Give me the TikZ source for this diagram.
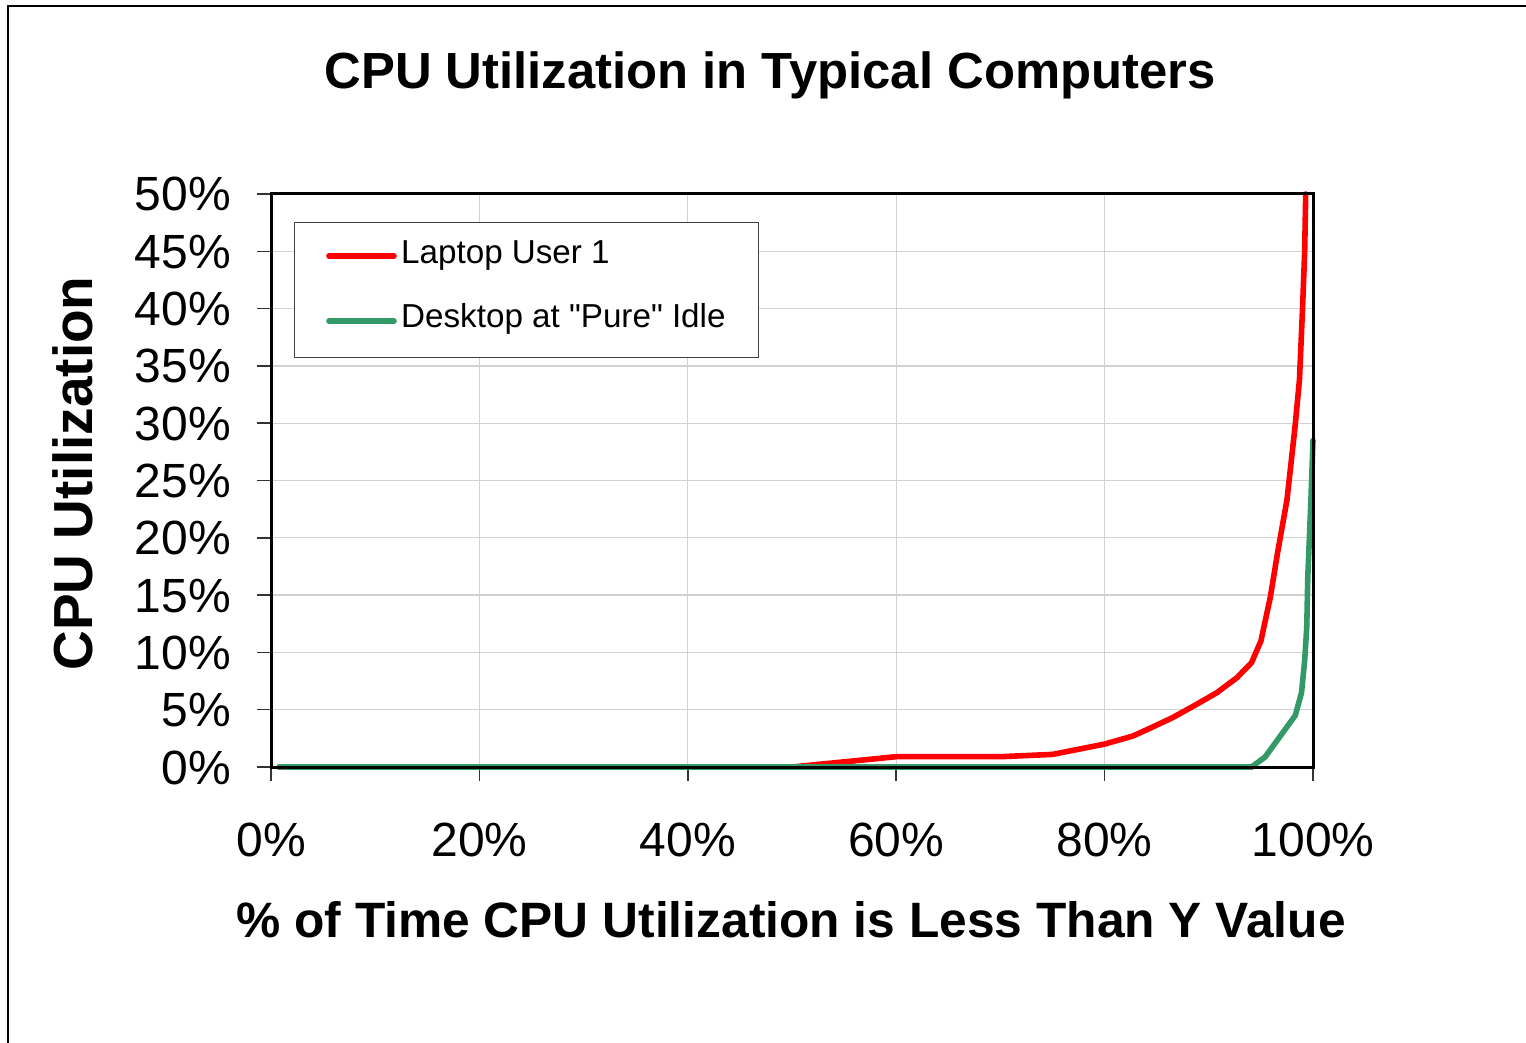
\documentclass[tikz,border=0pt]{standalone}
\usepackage{fontspec}
\setmainfont{Liberation Sans}
\definecolor{seagreen}{HTML}{339966}
\definecolor{gridgray}{HTML}{D2D2D2}
\definecolor{legendgray}{HTML}{404040}

\tikzset{
  frameline/.style={line width=3pt, black, line cap=rect},
  gridline/.style={line width=1.3pt, gridgray},
  tickline/.style={line width=1.5pt, black!80},
  series/.style={line width=5.6pt, line join=round, line cap=round},
  ticklabel/.style={font=\fontsize{48}{52}\selectfont, inner sep=0pt},
  axistitle/.style={font=\bfseries\fontsize{49.7}{54}\selectfont, inner sep=0pt},
  legendtext/.style={font=\fontsize{33.2}{36}\selectfont, inner sep=0pt, anchor=base west}
}

\begin{document}
\begin{tikzpicture}[x=1pt, y=-1pt]
\useasboundingbox (0,0) rectangle (1526,1043);

% outer chart frame
\draw[line width=1.5pt] (8,1043) -- (8,6) -- (1526,6);

% title
\node[font=\bfseries\fontsize{50.8}{56}\selectfont, inner sep=0pt, anchor=base] (title) at (770,89) {CPU Utilization in Typical Computers};

% plot area in data units: x 0..100 %, y 0..50 %
\begin{scope}[shift={(271,767)}, x=10.42pt, y=11.46pt]
  \coordinate (origin) at (0,0);
  \coordinate (corner) at (100,50);
  % grid
  \foreach \gx in {20,40,60,80} \draw[gridline] (\gx,0) -- (\gx,50);
  \foreach \gy in {5,10,...,45} \draw[gridline] (0,\gy) -- (100,\gy);
  % ticks
  \foreach \gy in {0,5,...,50} \draw[tickline] (0,\gy) -- ++(-14pt,0);
  \foreach \gx in {0,20,...,100} \draw[tickline] (\gx,0) -- ++(0,-14pt);

  % Desktop at "Pure" Idle
  \draw[series, seagreen] (0.8,0) -- (94.1,0) -- (95.4,0.87) -- (97.1,3.0) -- (98.3,4.5)
    -- (98.9,6.5) -- (99.2,9.3) -- (99.4,12.2) -- (99.5,16.6) -- (99.8,23.3) -- (100,28.5);
  % Laptop User 1
  \draw[series, red] (0.8,0) -- (50,0) -- (60,0.9) -- (70,0.9) -- (75,1.1) -- (80,2.0)
    -- (82.7,2.7) -- (84.4,3.4) -- (86.5,4.3) -- (88.5,5.3) -- (90.8,6.5) -- (92.7,7.8)
    -- (94.1,9.1) -- (95.0,11.0) -- (95.9,14.8) -- (96.6,18.7) -- (97.5,23.3)
    -- (98.3,29.9) -- (98.7,33.8) -- (99.0,40.1) -- (99.2,45.0) -- (99.3,50);
  % green redrawn over the shared zero run
  \draw[series, seagreen] (0.8,0) -- (94.1,0);

  % plot border
  \draw[frameline] (origin) rectangle (corner);

  % axis labels
  \foreach \gy in {0,5,...,50}
    \node[ticklabel, anchor=base east] (ylab\gy) at (0,\gy) [xshift=-40pt, yshift=-17pt] {\gy\%};
  \foreach \gx in {0,20,...,100}
    \node[ticklabel, anchor=base] (xlab\gx) at (\gx,0) [yshift=-89pt] {\gx\%};
\end{scope}

% axis titles
\node[axistitle, anchor=base] (xtitle) at (791,937) {\% of Time CPU Utilization is Less Than Y Value};
\node[axistitle, font=\bfseries\fontsize{55}{60}\selectfont, anchor=base, rotate=90] (ytitle) at (92,473.5) {CPU Utilization};

% legend
\node[draw=legendgray, line width=1.3pt, fill=white, minimum width=464pt, minimum height=135pt, anchor=north west, inner sep=0pt] (legend) at (294,222) {};
\coordinate (redA) at (329,256);
\coordinate (redB) at (394,256);
\coordinate (grnA) at (329,321);
\coordinate (grnB) at (394,321);
\draw[series, red] (redA) -- (redB);
\draw[series, seagreen] (grnA) -- (grnB);
\node[legendtext] (leg1) at (401,263) {Laptop User 1};
\node[legendtext] (leg2) at (401,327) {Desktop at \textquotedbl Pure\textquotedbl\ Idle};
\end{tikzpicture}
\end{document}
